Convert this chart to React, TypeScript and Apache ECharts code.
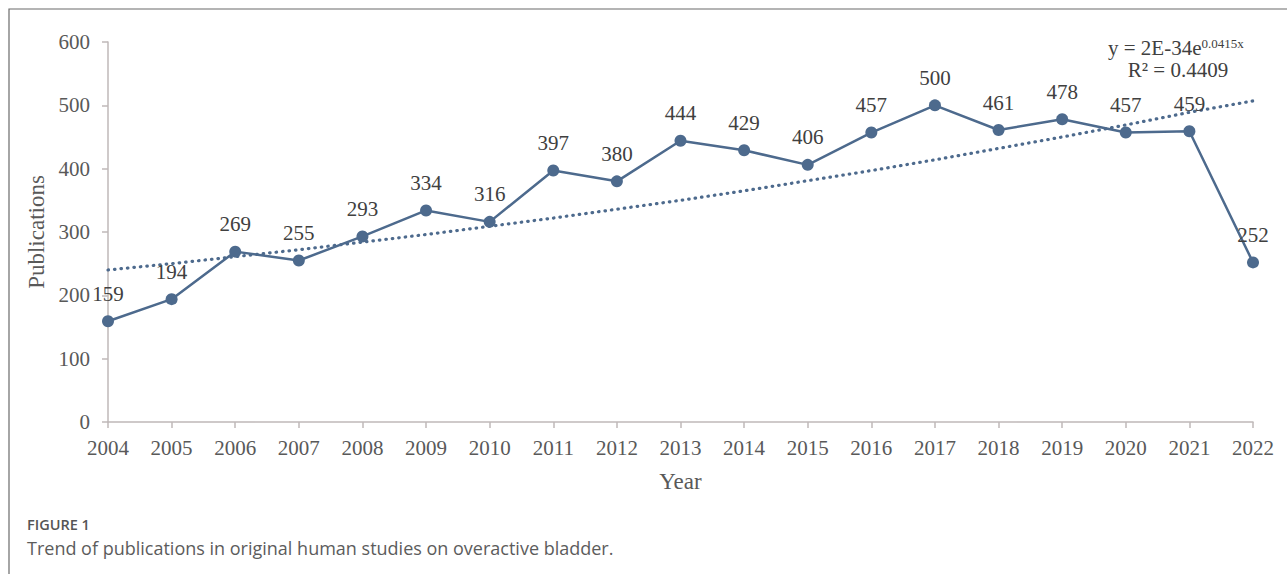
import React, { useEffect, useRef } from "react";
import * as echarts from "echarts";

const years = ["2004","2005","2006","2007","2008","2009","2010","2011","2012","2013","2014","2015","2016","2017","2018","2019","2020","2021","2022"];
const publications = [159,194,269,255,293,334,316,397,380,444,429,406,457,500,461,478,457,459,252];
// exponential trendline values
const trend = [240,250,261,272,284,296,309,322,336,350,365,381,397,414,432,450,469,489,507];
const yTicks = { min: 0, max: 600, interval: 100 };

const serif = "'Liberation Serif', 'Times New Roman', serif";
const sans = "'Open Sans', 'Noto Sans', sans-serif";
const lineColor = "#4d6a8d";

export default function App() {
  const ref = useRef<HTMLDivElement>(null);
  useEffect(() => {
    const chart = echarts.init(ref.current!, null, { renderer: "svg" });
    chart.setOption({
      animation: false,
      backgroundColor: "#ffffff",
      grid: { left: 108, right: 34, top: 42, bottom: 152, containLabel: false },
      xAxis: {
        type: "category",
        data: years,
        boundaryGap: false,
        name: "Year",
        nameLocation: "middle",
        nameGap: 48,
        nameTextStyle: { fontFamily: serif, fontSize: 23, color: "#595959" },
        axisLine: { lineStyle: { color: "#bfb8b8", width: 1.5 } },
        axisTick: { show: true, length: 6, alignWithLabel: true, lineStyle: { color: "#bfb8b8", width: 1.5 } },
        axisLabel: { fontFamily: serif, fontSize: 21, color: "#595959", margin: 15, interval: 0 },
        splitLine: { show: false },
      },
      yAxis: {
        type: "value",
        min: yTicks.min,
        max: yTicks.max,
        interval: yTicks.interval,
        name: "Publications",
        nameLocation: "middle",
        nameGap: 56,
        nameRotate: 90,
        nameTextStyle: { fontFamily: serif, fontSize: 23, color: "#595959" },
        axisLine: { show: true, lineStyle: { color: "#bfb8b8", width: 1.5 } },
        axisTick: { show: true, length: 6, lineStyle: { color: "#bfb8b8", width: 1.5 } },
        axisLabel: { fontFamily: serif, fontSize: 21, color: "#595959", margin: 18 },
        splitLine: { show: false },
      },
      series: [
        {
          type: "line",
          data: trend,
          symbol: "none",
          silent: true,
          lineStyle: { color: lineColor, width: 3.2, type: [0.5, 6], cap: "round" },
          z: 1,
        },
        {
          type: "line",
          data: publications,
          symbol: "circle",
          symbolSize: 12,
          itemStyle: { color: lineColor },
          lineStyle: { color: lineColor, width: 2.5 },
          label: {
            show: true,
            position: "top",
            distance: 11,
            fontFamily: serif,
            fontSize: 21,
            color: "#404040",
          },
          z: 2,
        },
      ],
      graphic: [
        {
          type: "rect",
          shape: { x: 9, y: 9, width: 1300, height: 600 },
          style: { fill: "none", stroke: "#6b6b6b", lineWidth: 1.2 },
          silent: true,
        },
        {
          type: "text",
          x: 1108,
          y: 48,
          style: {
            text: "{a|y = 2E-34e}{s|0.0415x}",
            align: "left",
            verticalAlign: "middle",
            rich: {
              a: { fontFamily: serif, fontSize: 21, fill: "#404040", color: "#404040" },
              s: { fontFamily: serif, fontSize: 13, fill: "#404040", color: "#404040", verticalAlign: "top", padding: [0, 0, 9, 0] },
            },
          },
        },
        {
          type: "text",
          x: 1178,
          y: 70,
          style: {
            text: "R² = 0.4409",
            align: "center",
            verticalAlign: "middle",
            font: `21px ${serif}`,
            fill: "#404040",
          },
        },
        {
          type: "text",
          x: 27,
          y: 524,
          style: {
            text: "FIGURE 1",
            verticalAlign: "middle",
            font: `600 14.5px ${sans}`,
            fill: "#555555",
          },
        },
        {
          type: "text",
          x: 27,
          y: 548,
          style: {
            text: "Trend of publications in original human studies on overactive bladder.",
            verticalAlign: "middle",
            font: `18px ${sans}`,
            fill: "#5c5c5c",
          },
        },
      ],
    });
    return () => chart.dispose();
  }, []);
  return (
    <div
      ref={ref}
      style={{ position: "absolute", left: 0, top: 0, width: 1287, height: 574 }}
    />
  );
}
